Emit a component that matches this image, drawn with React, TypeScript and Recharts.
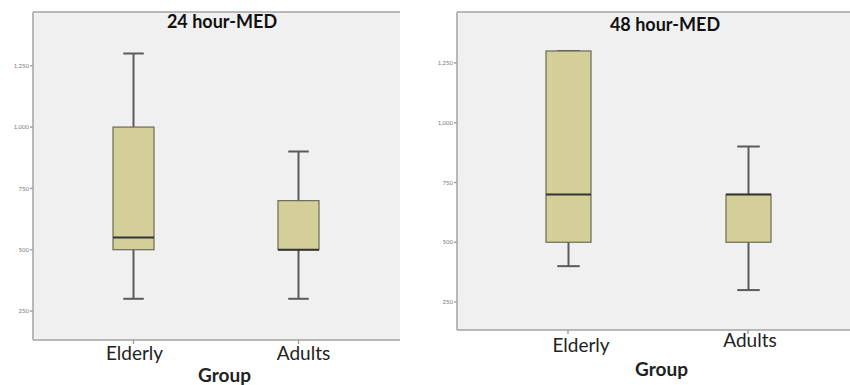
import { Bar, ComposedChart, XAxis, YAxis, CartesianGrid, Label } from "recharts";

const groups = ["Elderly", "Adults"];
const yTicks = [250, 500, 750, 1000, 1250];

// five-number summaries: [min, q1, median, q3, max]
const med24 = [
  [300, 500, 550, 1000, 1300],
  [300, 500, 500, 700, 900],
];
const med48 = [
  [400, 500, 700, 1300, 1300],
  [300, 500, 700, 700, 900],
];

const toRows = (stats: number[][]) =>
  groups.map((group, i) => {
    const [min, q1, median, q3, max] = stats[i];
    return { group, whisker: [min, max], min, q1, median, q3, max };
  });

const BOX_FILL = "#d4cf99";
const LINE = "#5a5a5a";
const FRAME = "#a3a3a3";
const FONT = "Lato, 'Open Sans', sans-serif";

// draws whisker, caps, box and median inside the range bar that spans min..max
function BoxShape(props: any) {
  const { x, y, width, height, payload } = props;
  const top = Math.min(y, y + height);
  const h = Math.abs(height);
  const { min, max, q1, median, q3 } = payload;
  const py = (v: number) => (max === min ? top : top + (h * (max - v)) / (max - min));
  const cx = x + width / 2;
  const cap = width / 2;
  return (
    <g>
      <line x1={cx} x2={cx} y1={py(max)} y2={py(min)} stroke={LINE} strokeWidth={2} />
      <line x1={cx - cap / 2} x2={cx + cap / 2} y1={py(max)} y2={py(max)} stroke={LINE} strokeWidth={2} />
      <line x1={cx - cap / 2} x2={cx + cap / 2} y1={py(min)} y2={py(min)} stroke={LINE} strokeWidth={2} />
      <rect x={x} y={py(q3)} width={width} height={py(q1) - py(q3)} fill={BOX_FILL} stroke="#6b6a55" strokeWidth={1.2} />
      <line x1={x} x2={x + width} y1={py(median)} y2={py(median)} stroke="#333" strokeWidth={2} />
    </g>
  );
}

// category label, nudged a little per group like the pasted panels
function CatTick(props: any) {
  const { x, y, payload, shift } = props;
  const [dx, dy] = shift || [0, 0];
  return (
    <text
      x={x + dx}
      y={y + dy}
      textAnchor="middle"
      dominantBaseline="hanging"
      fill="#222"
      fontSize={19}
      fontFamily={FONT}
    >
      {payload.value}
    </text>
  );
}

type PanelProps = {
  title: string;
  stats: number[][];
  width: number;
  axisWidth: number;
  marginRight: number;
  xAxisHeight: number;
  domain: [number, number];
  pad: { left: number; right: number };
  barSize: number;
  tickShift: number[][];
  labelDx: number;
  labelOffset: number;
  titleX: number;
  titleTop: number;
};

function Panel(p: PanelProps) {
  const rows = toRows(p.stats);
  return (
    <div style={{ position: "relative", width: p.width, height: 385 }}>
      <ComposedChart
        width={p.width}
        height={385}
        data={rows}
        margin={{ top: 11, right: p.marginRight, bottom: 0, left: 0 }}
      >
        <CartesianGrid fill="#f0f0f0" horizontal={false} vertical={false} />
        <XAxis
          dataKey="group"
          padding={p.pad}
          height={p.xAxisHeight}
          stroke={FRAME}
          strokeWidth={1.5}
          tickSize={4}
          tickMargin={0}
          tick={(t: any) => <CatTick {...t} shift={p.tickShift[t.index]} />}
        >
          <Label
            value="Group"
            position="insideBottom"
            offset={p.labelOffset}
            dx={p.labelDx}
            style={{ fill: "#222", fontSize: 19, fontWeight: 700, fontFamily: FONT }}
          />
        </XAxis>
        <XAxis
          xAxisId="top"
          dataKey="group"
          orientation="top"
          height={1}
          padding={p.pad}
          tick={false}
          tickLine={false}
          stroke={FRAME}
          strokeWidth={1.5}
        />
        <YAxis
          width={p.axisWidth}
          domain={p.domain}
          ticks={yTicks}
          allowDataOverflow
          stroke={FRAME}
          strokeWidth={1.5}
          tickSize={3}
          tickMargin={1}
          tickFormatter={(v: number) => v.toLocaleString("en-US")}
          tick={{ fill: "#777", fontSize: 6, fontFamily: FONT }}
        />
        <YAxis
          yAxisId="right"
          orientation="right"
          width={0}
          domain={p.domain}
          tick={false}
          tickLine={false}
          stroke={FRAME}
          strokeWidth={1.5}
        />
        <Bar dataKey="whisker" barSize={p.barSize} shape={BoxShape} isAnimationActive={false} />
      </ComposedChart>
      <div
        style={{
          position: "absolute",
          left: p.titleX,
          top: p.titleTop,
          transform: "translateX(-50%)",
          whiteSpace: "nowrap",
          fontFamily: FONT,
          fontWeight: 700,
          fontSize: 18,
          lineHeight: "18px",
          color: "#111",
        }}
      >
        {p.title}
      </div>
    </div>
  );
}

export default function App() {
  return (
    <div
      style={{
        position: "fixed",
        left: 0,
        top: 0,
        width: 850,
        height: 385,
        background: "#fff",
        overflow: "hidden",
      }}
    >
      <div style={{ position: "absolute", left: 0, top: 0 }}>
        <Panel
          title="24 hour-MED"
          stats={med24}
          width={410}
          axisWidth={33}
          marginRight={10}
          xAxisHeight={45}
          domain={[132, 1469]}
          pad={{ left: 18, right: 19 }}
          barSize={41}
          tickShift={[[1, 1], [5, 1]]}
          labelDx={8}
          labelOffset={3}
          titleX={222}
          titleTop={12}
        />
      </div>
      <div style={{ position: "absolute", left: 420, top: 0 }}>
        <Panel
          title="48 hour-MED"
          stats={med48}
          width={432}
          axisWidth={37}
          marginRight={0}
          xAxisHeight={55}
          domain={[133, 1463]}
          pad={{ left: 21, right: 14 }}
          barSize={45}
          tickShift={[[13, 3], [2, -2]]}
          labelDx={7}
          labelOffset={9}
          titleX={245}
          titleTop={15}
        />
      </div>
    </div>
  );
}
